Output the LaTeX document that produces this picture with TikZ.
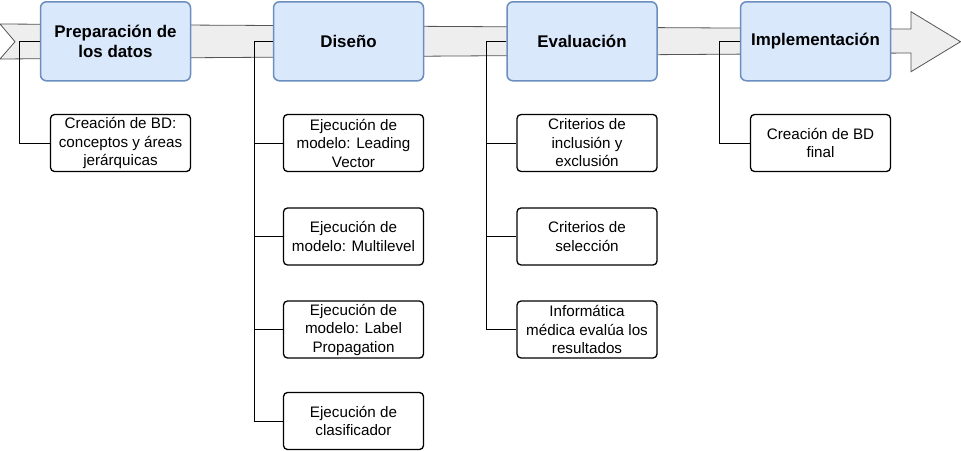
\documentclass[tikz,border=0pt]{standalone}
\usepackage{fontspec}
\setmainfont{Liberation Sans}
\definecolor{hdfill}{HTML}{DAE8FC}
\definecolor{hdline}{HTML}{6C8EBF}
\definecolor{bandfill}{HTML}{EEEEEE}
\definecolor{bandline}{HTML}{555555}
\tikzset{
  hd/.style={draw=hdline, fill=hdfill, line width=1.5pt, rounded corners=6pt,
    minimum width=150pt, minimum height=79pt, align=center, inner sep=0pt,
    font=\fontsize{16.9}{20}\selectfont\bfseries},
  sub/.style={draw=black, fill=white, line width=1.3pt, rounded corners=4pt,
    minimum width=140pt, minimum height=57pt, align=center, inner sep=0pt,
    font=\fontsize{15.2}{18.5}\selectfont},
  conn/.style={draw=black, line width=1pt},
  band/.style={draw=bandline, fill=bandfill, line width=0.8pt}
}
\begin{document}
\begin{tikzpicture}[x=1pt,y=-1pt]
\useasboundingbox (0,0) rectangle (961,450);
% band arrow
\draw[band] (0,24) -- (911,29) -- (911,11.7) -- (960.5,41.7) -- (911,71.7) -- (911,53) -- (0,59) -- (15,41.7) -- cycle;
% header boxes
\node[hd] (p1) at (115.5,41.3) {Preparación de\\los datos};
\node[hd] (p2) at (348.5,41.3) {Diseño};
\node[hd] (p3) at (582,41.3) {Evaluación};
\node[hd] (p4) at (815.5,41.3) {Implementación};
% children
\node[sub] (c1) at (120.5,143) {Creación de BD:\\conceptos y áreas\\jerárquicas};
\node[sub] (c2a) at (353.5,143) {Ejecución de\\modelo: Leading\\Vector};
\node[sub] (c2b) at (353.5,236.5) {Ejecución de\\modelo: Multilevel};
\node[sub] (c2c) at (353.5,329.5) {Ejecución de\\modelo: Label\\Propagation};
\node[sub] (c2d) at (353.5,421) {Ejecución de\\clasificador};
\node[sub] (c3a) at (587,143) {Criterios de\\inclusión y\\exclusión};
\node[sub] (c3b) at (587,236.5) {Criterios de\\selección};
\node[sub] (c3c) at (587,329.5) {Informática\\médica evalúa los\\resultados};
\node[sub] (c4) at (820.5,143) {Creación de BD\\final};
% connectors
\draw[conn] (p1.west) -- ++(-20,0) |- (c1.west);
\draw[conn] (p2.west) -- ++(-18.5,0) |- (c2a.west);
\draw[conn] (p2.west) -- ++(-18.5,0) |- (c2b.west);
\draw[conn] (p2.west) -- ++(-18.5,0) |- (c2c.west);
\draw[conn] (p2.west) -- ++(-18.5,0) |- (c2d.west);
\draw[conn] (p3.west) -- ++(-19.5,0) |- (c3a.west);
\draw[conn] (p3.west) -- ++(-19.5,0) |- (c3b.west);
\draw[conn] (p3.west) -- ++(-19.5,0) |- (c3c.west);
\draw[conn] (p4.west) -- ++(-20,0) |- (c4.west);
\end{tikzpicture}
\end{document}
